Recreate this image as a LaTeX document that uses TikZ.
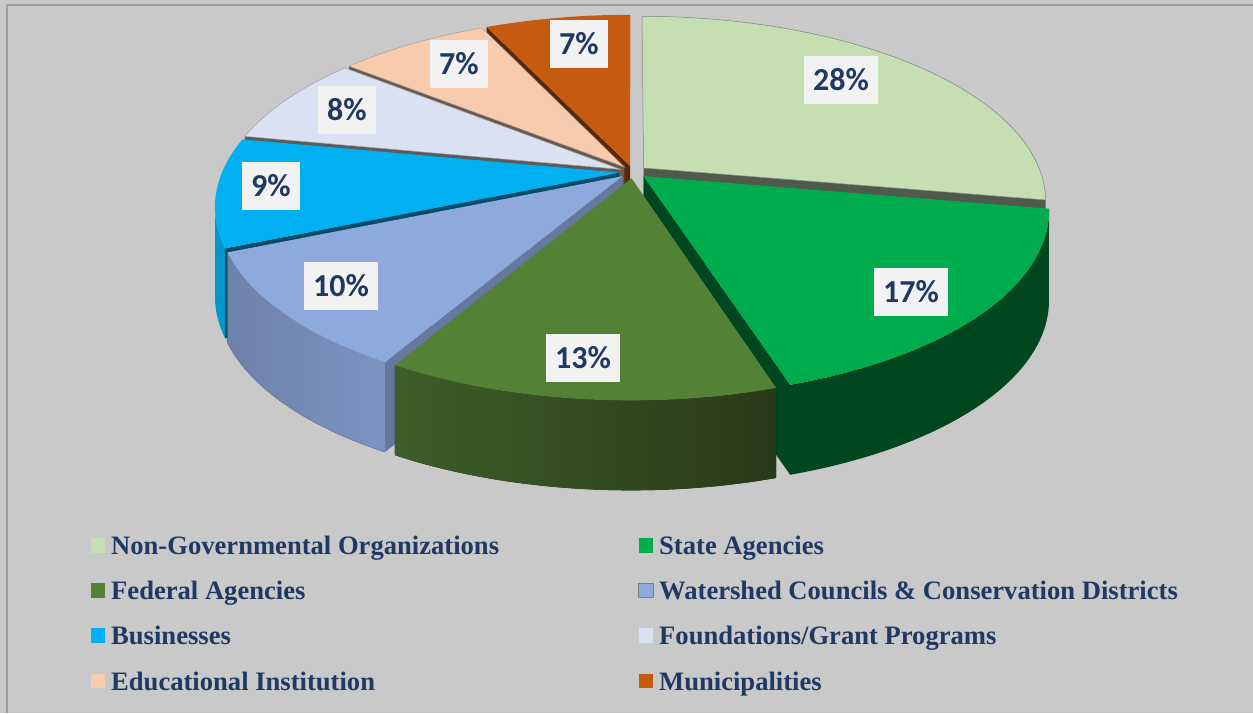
\documentclass[tikz,border=0pt]{standalone}
\usepackage{fontspec}
\setmainfont{Liberation Serif}
\newfontfamily\pctfont{Carlito}
\usetikzlibrary{positioning}

\definecolor{chartbg}{HTML}{C9C9C9}
\definecolor{frameline}{HTML}{9B9B9B}
\definecolor{navy}{HTML}{1F3864}
\definecolor{boxfill}{HTML}{F2F2F2}
\definecolor{ngo}{HTML}{C5DFB2}
\definecolor{ngoface}{HTML}{4F5A4A}
\definecolor{state}{HTML}{00AC4E}
\definecolor{stateside}{HTML}{00461F}
\definecolor{federal}{HTML}{538135}
\definecolor{fedleft}{HTML}{3E5E29}
\definecolor{fedright}{HTML}{283A19}
\definecolor{watershed}{HTML}{8EA9DB}
\definecolor{wsleft}{HTML}{7C93C2}
\definecolor{wsright}{HTML}{6E81AB}
\definecolor{wsface}{HTML}{66789E}
\definecolor{business}{HTML}{00B0F0}
\definecolor{busside}{HTML}{0097CC}
\definecolor{busface}{HTML}{004C69}
\definecolor{found}{HTML}{D9E1F2}
\definecolor{foundface}{HTML}{5B5B5B}
\definecolor{edu}{HTML}{F8CBAD}
\definecolor{eduface}{HTML}{6D5A4F}
\definecolor{muni}{HTML}{C55A11}
\definecolor{muniface}{HTML}{5A2707}

% slice pieces: radial side face, outer wall, top
\newcommand{\rimface}[3]{%
  \fill[#3] ({sx(0,0,#2)},{sy(0,0,#2)}) -- ({sx(1,#1,#2)},{sy(1,#1,#2)})
    -- ({sx(1,#1,#2)},{sb(1,#1,#2)}) -- ({sx(0,0,#2)},{sb(0,0,#2)}) -- cycle;}
\newcommand{\rimwall}[4]{%
  \fill[#4] plot[domain=#1:#2,samples=40] ({sx(1,\x,#3)},{sy(1,\x,#3)})
    -- plot[domain=#2:#1,samples=40] ({sx(1,\x,#3)},{sb(1,\x,#3)}) -- cycle;}
\newcommand{\slicetop}[4]{%
  \filldraw[#4] plot[domain=#1:#2,samples=60] ({sx(1,\x,#3)},{sy(1,\x,#3)})
    -- ({sx(0,0,#3)},{sy(0,0,#3)}) -- cycle;}

\tikzset{
  pct/.style={fill=boxfill, text=navy, font=\pctfont\bfseries\fontsize{32}{36}\selectfont,
    minimum height=48pt, inner xsep=9pt, inner ysep=0pt},
  key/.style={minimum size=14.5pt, inner sep=0pt},
  keytext/.style={text=navy, font=\bfseries\fontsize{26.6}{30}\selectfont, anchor=base west, inner sep=0pt},
}

\begin{document}
\begin{tikzpicture}[x=1pt,y=-1pt,
  declare function={
    qx(\r,\t,\m)=0.035*sin(\m)+\r*sin(\t);
    qy(\r,\t,\m)=0.035*cos(\m)+\r*cos(\t);
    sx(\r,\t,\m)=633+397*qx(\r,\t,\m)/(1+0.178*qy(\r,\t,\m));
    sy(\r,\t,\m)=172-180*qy(\r,\t,\m)/(1+0.178*qy(\r,\t,\m));
    sb(\r,\t,\m)=sy(\r,\t,\m)+90;
  }]
	\useasboundingbox (0,0) rectangle (1253,713);
	\fill[chartbg] (0,0) rectangle (1253,713);
	\draw[frameline, line width=2pt] (7,713) -- (7,5) -- (1253,5);

	% back slices first
	\rimface{335}{347.5}{muniface}
	\slicetop{335}{360}{347.5}{muni, draw=none}
	\rimface{309}{322}{eduface}
	\slicetop{309}{335}{322}{edu, draw=gray!75, line width=0.5pt}
	\rimface{281}{295}{foundface}
	\slicetop{281}{309}{295}{found, draw=gray!75, line width=0.5pt}
	\rimface{247}{264}{busface}
	\rimwall{247}{260}{264}{busside}
	\slicetop{247}{281}{264}{business, draw=none}
	\rimface{210}{228.5}{wsface}
	\rimwall{210}{247}{228.5}{left color=wsright, right color=wsleft}
	\slicetop{210}{247}{228.5}{watershed, draw=none}
	\rimface{100}{50}{ngoface}
	\slicetop{0}{100}{50}{ngo, draw=gray, line width=0.5pt}
	\rimface{162.5}{131}{stateside}
	\rimwall{100}{162.5}{131}{stateside}
	\slicetop{100}{162.5}{131}{state, draw=none}
	\rimwall{162.5}{210}{186}{left color=fedleft, right color=fedright}
	\slicetop{162.5}{210}{186}{federal, draw=none}

	% value labels
	\node[pct] (pngo) at (841,80) {28\%};
	\node[pct] (pstate) at (911,292) {17\%};
	\node[pct] (pfed) at (583,358) {13\%};
	\node[pct] (pws) at (341,286) {10\%};
	\node[pct] (pbus) at (271,186) {9\%};
	\node[pct] (pfound) at (347,110) {8\%};
	\node[pct] (pedu) at (459,64) {7\%};
	\node[pct] (pmuni) at (579,44) {7\%};

	% legend
	\node[key, fill=ngo] (kngo) at (98,545.5) {};
	\node[keytext] (tngo) at (111,554) {Non-Governmental Organizations};
	\node[key, fill=federal] (kfed) at (98,590.5) {};
	\node[keytext] (tfed) at (111,599) {Federal Agencies};
	\node[key, fill=business] (kbus) at (98,635.5) {};
	\node[keytext] (tbus) at (111,644) {Businesses};
	\node[key, fill=edu] (kedu) at (98,681) {};
	\node[keytext] (tedu) at (111,690) {Educational Institution};
	\node[key, fill=state] (kstate) at (646,545.5) {};
	\node[keytext] (tstate) at (659,554) {State Agencies};
	\node[key, fill=watershed, draw=gray, line width=1pt] (kws) at (646,590.5) {};
	\node[keytext] (tws) at (659,599) {Watershed Councils \& Conservation Districts};
	\node[key, fill=found] (kfound) at (646,635.5) {};
	\node[keytext] (tfound) at (659,644) {Foundations/Grant Programs};
	\node[key, fill=muni] (kmuni) at (646,681) {};
	\node[keytext] (tmuni) at (659,690) {Municipalities};
\end{tikzpicture}
\end{document}
